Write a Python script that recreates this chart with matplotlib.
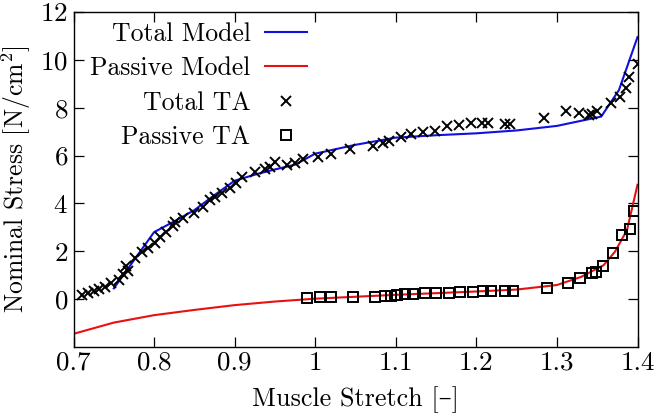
import matplotlib
matplotlib.use("Agg")
import matplotlib.pyplot as plt
from matplotlib.ticker import FixedLocator, FixedFormatter

plt.rcParams['font.family'] = ['cmr10', 'DejaVu Serif']
plt.rcParams['mathtext.fontset'] = 'cm'
plt.rcParams['axes.formatter.use_mathtext'] = True

# model curves
total_model_x = [0.75, 0.80, 0.825, 0.85, 0.875, 0.90, 0.93, 0.95, 0.975, 1.0, 1.05, 1.10,
                 1.15, 1.20, 1.25, 1.30, 1.355, 1.377, 1.40]
total_model_y = [0.45, 2.80, 3.25, 3.72, 4.35, 4.95, 5.25, 5.42, 5.62, 6.08, 6.45, 6.75,
                 6.85, 6.93, 7.05, 7.24, 7.63, 8.74, 10.95]

passive_model_x = [0.70, 0.75, 0.80, 0.85, 0.90, 0.95, 1.0, 1.05, 1.10, 1.15, 1.20, 1.25,
                   1.30, 1.33, 1.358, 1.372, 1.387, 1.40]
passive_model_y = [-1.45, -0.98, -0.67, -0.45, -0.25, -0.10, 0.02, 0.10, 0.18, 0.25, 0.32, 0.40,
                   0.59, 0.93, 1.42, 1.98, 2.89, 4.78]

# measured TA data
total_ta_x = [0.711, 0.718, 0.725, 0.732, 0.739, 0.747, 0.757, 0.762, 0.765, 0.768, 0.776,
              0.785, 0.793, 0.801, 0.807, 0.815, 0.823, 0.826, 0.836, 0.849, 0.861, 0.869,
              0.876, 0.884, 0.894, 0.902, 0.909, 0.925, 0.938, 0.944, 0.950, 0.965, 0.975,
              0.985, 1.004, 1.019, 1.043, 1.072, 1.084, 1.091, 1.106, 1.119, 1.134, 1.149,
              1.164, 1.178, 1.193, 1.207, 1.215, 1.235, 1.242, 1.284, 1.311, 1.328, 1.3395,
              1.3437, 1.350, 1.367, 1.378, 1.386, 1.390, 1.400]
total_ta_y = [0.17, 0.26, 0.35, 0.43, 0.52, 0.66, 0.79, 1.07, 1.38, 1.18, 1.70,
              1.98, 2.12, 2.36, 2.58, 2.82, 3.05, 3.24, 3.38, 3.59, 3.86, 4.14,
              4.28, 4.42, 4.63, 4.84, 5.12, 5.33, 5.43, 5.54, 5.74, 5.61, 5.68,
              5.84, 5.93, 6.08, 6.26, 6.40, 6.51, 6.62, 6.77, 6.90, 6.99, 7.04,
              7.24, 7.29, 7.35, 7.35, 7.35, 7.32, 7.32, 7.57, 7.86, 7.77, 7.71,
              7.74, 7.88, 8.18, 8.44, 8.82, 9.30, 9.82]

passive_ta_x = [0.990, 1.006, 1.020, 1.047, 1.074, 1.086, 1.094, 1.101, 1.112, 1.121, 1.136,
                1.150, 1.166, 1.180, 1.196, 1.208, 1.218, 1.236, 1.246, 1.288, 1.314, 1.329,
                1.344, 1.348, 1.357, 1.369, 1.381, 1.391, 1.396]
passive_ta_y = [0.03, 0.07, 0.07, 0.07, 0.10, 0.13, 0.13, 0.17, 0.21, 0.21, 0.24,
                0.26, 0.26, 0.31, 0.31, 0.35, 0.35, 0.35, 0.35, 0.45, 0.68, 0.87,
                1.10, 1.14, 1.38, 1.94, 2.69, 2.92, 3.68]

xticks = [0.7, 0.8, 0.9, 1.0, 1.1, 1.2, 1.3, 1.4]
xtick_labels = ['0.7', '0.8', '0.9', '1', '1.1', '1.2', '1.3', '1.4']
yticks = [0, 2, 4, 6, 8, 10, 12]

fig = plt.figure(figsize=(6.61, 4.16), dpi=100)
ax = fig.add_axes([73.5 / 661, 1 - 347 / 416, 564 / 661, 335 / 416])

ax.plot(total_model_x, total_model_y, color='#1010e0', lw=1.5, label='Total Model')
ax.plot(passive_model_x, passive_model_y, color='#e81010', lw=1.5, label='Passive Model')
ax.plot(total_ta_x, total_ta_y, 'x', color='black', ms=7, mew=1.4, label='Total TA')
ax.plot(passive_ta_x, passive_ta_y, 's', mfc='none', mec='black', ms=7, mew=1.4,
        label='Passive TA')

ax.set_xlim(0.7, 1.4)
ax.set_ylim(-2, 12)
ax.xaxis.set_major_locator(FixedLocator(xticks))
ax.xaxis.set_major_formatter(FixedFormatter(xtick_labels))
ax.set_yticks(yticks)
ax.tick_params(direction='in', top=True, right=True, length=7, width=0.9, labelsize=19.5)
ax.tick_params(axis='x', pad=3)
ax.tick_params(axis='y', pad=4)
for s in ax.spines.values():
    s.set_linewidth(1.0)

ax.set_xlabel('Muscle Stretch [–]', fontsize=18.8, labelpad=8)
ax.set_ylabel('Nominal Stress [N/cm$^2$]', fontsize=18.5)
ax.yaxis.set_label_coords(-0.071, 0.5)

ax.legend(loc='upper left', bbox_to_anchor=(0.0, 1.02), markerfirst=False, frameon=False,
          fontsize=18.5, handlelength=1.67, handletextpad=0.55, labelspacing=0.42,
          borderaxespad=0.25)

fig.savefig('out.png', dpi=100)
